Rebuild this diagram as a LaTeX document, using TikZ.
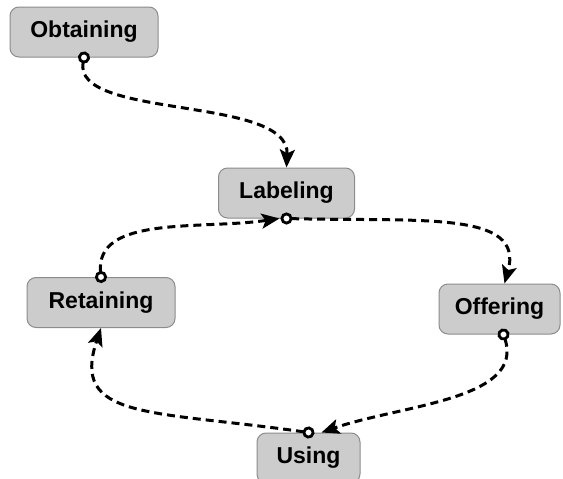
\documentclass[tikz,border=0pt]{standalone}
\usepackage{fontspec}
\setmainfont{Liberation Sans}
\usetikzlibrary{arrows.meta}
\tikzset{
  stage/.style={draw=black!45, line width=1pt, fill=black!20, rounded corners=9pt,
    minimum height=50pt, inner sep=0pt, font=\fontsize{23}{27}\selectfont\bfseries, text=black},
  flow/.style={line width=3pt, dash pattern=on 8pt off 5pt,
    {Circle[open, length=12pt, width=12pt, line width=2.8pt, fill=white, sep=-6pt]}-{Stealth[length=18pt, width=15pt, inset=4pt]}}
}
\begin{document}
\begin{tikzpicture}[x=1pt, y=-1pt]
\useasboundingbox (0,0) rectangle (563,479);
\clip (0,0) rectangle (563,479);
\node[stage, minimum width=148pt] (obt) at (84,32) {Obtaining};
\node[stage, minimum width=136pt] (lab) at (286.5,193) {Labeling};
\node[stage, minimum width=148pt] (ret) at (101,302.5) {Retaining};
\node[stage, minimum width=121pt] (off) at (499.5,309) {Offering};
\node[stage, minimum width=103pt] (use) at (308.5,458) {Using};
\coordinate (offtop) at ([xshift=5pt]off.north);
\coordinate (offbot) at ([xshift=4pt]off.south);
\coordinate (usein) at ([xshift=13pt]use.north);
\coordinate (labin) at ([xshift=-7pt]lab.south);
\draw[flow] (obt.south) .. controls (72,120) and (290,95) .. (lab.north);
\draw[flow] (lab.south) .. controls (420,222) and (525,210) .. (offtop);
\draw[flow] (offbot) .. controls (525,400) and (400,405) .. (usein);
\draw[flow] (use.north) .. controls (150,410) and (70,420) .. (ret.south);
\draw[flow] (ret.north) .. controls (95,215) and (200,230) .. (labin);
\end{tikzpicture}
\end{document}
